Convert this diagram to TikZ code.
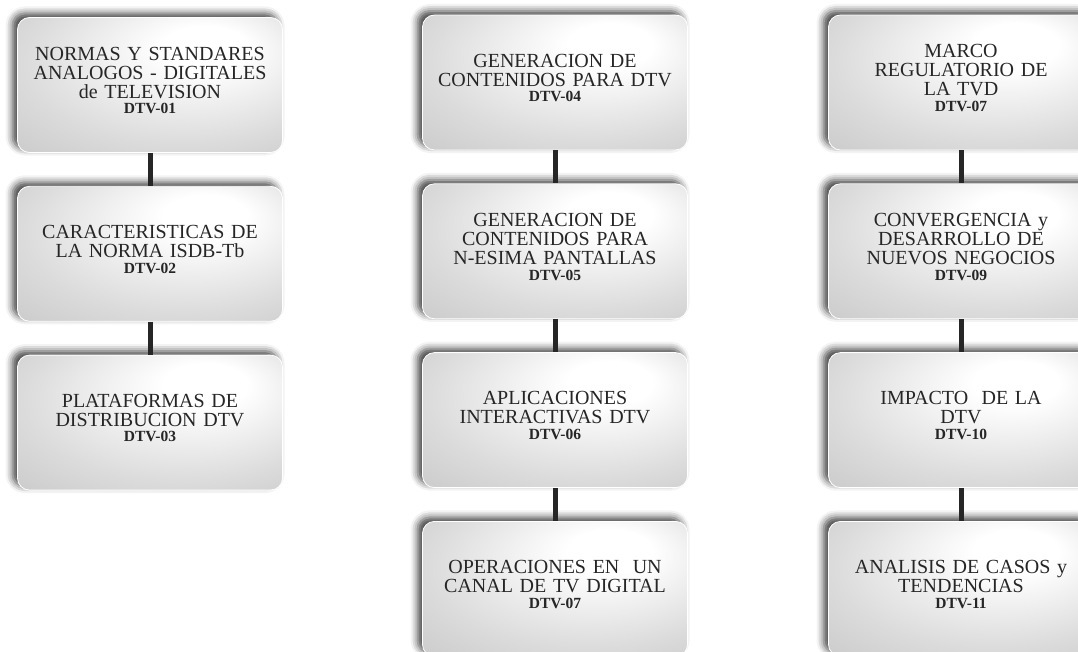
\documentclass[tikz,border=0pt]{standalone}
\usepackage{fontspec}
\setmainfont{Liberation Serif}
\usetikzlibrary{positioning,shadows.blur}

\pgfdeclareradialshading{boxglow}{\pgfpoint{12bp}{16bp}}{color(0bp)=(white); color(8bp)=(white); color(30bp)=(black!14); color(45bp)=(black!22); color(60bp)=(black!27)}
\newcommand{\dtv}[1]{\\[-3.5pt]{\fontsize{15.5}{15.5}\selectfont\bfseries #1}\par\vspace{9pt}}

\begin{document}
\begin{tikzpicture}[x=1pt,y=-1pt,
		node distance=33pt,
		box/.style={rectangle,rounded corners=12pt,minimum width=265pt,minimum height=135pt,
			text width=258pt,align=center,shading=boxglow,draw=white,line width=0.8pt,
			text=black!85,font=\fontsize{20}{19}\selectfont,
			blur shadow={shadow xshift=-5pt,shadow yshift=4pt,shadow blur radius=7pt,shadow opacity=75}},
		link/.style={line width=5pt,black!85}]
	\useasboundingbox (0,0) rectangle (1078,652);

	\node[box] (n01) at (150,85) {NORMAS Y STANDARES\\ANALOGOS - DIGITALES\\de TELEVISION\dtv{DTV-01}};
	\node[box,below=of n01] (n02) {CARACTERISTICAS DE\\LA NORMA ISDB-Tb\dtv{DTV-02}};
	\node[box,below=of n02] (n03) {PLATAFORMAS DE\\DISTRIBUCION DTV\dtv{DTV-03}};

	\node[box] (n04) at (555,82.5) {GENERACION DE\\CONTENIDOS PARA DTV\dtv{DTV-04}};
	\node[box,below=of n04] (n05) {GENERACION DE\\CONTENIDOS PARA\\N-ESIMA PANTALLAS\dtv{DTV-05}};
	\node[box,below=of n05] (n06) {APLICACIONES\\INTERACTIVAS DTV\dtv{DTV-06}};
	\node[box,below=of n06] (n07) {OPERACIONES EN\ \ UN\\CANAL DE TV DIGITAL\dtv{DTV-07}};

	\node[box] (n08) at (961,82.5) {MARCO\\REGULATORIO DE\\LA TVD\dtv{DTV-07}};
	\node[box,below=of n08] (n09) {CONVERGENCIA y\\DESARROLLO DE\\NUEVOS NEGOCIOS\dtv{DTV-09}};
	\node[box,below=of n09] (n10) {IMPACTO\ \ DE LA\\DTV\dtv{DTV-10}};
	\node[box,below=of n10] (n11) {ANALISIS DE CASOS y\\TENDENCIAS\dtv{DTV-11}};

	\draw[link] (n01) -- (n02);
	\draw[link] (n02) -- (n03);
	\draw[link] (n04) -- (n05);
	\draw[link] (n05) -- (n06);
	\draw[link] (n06) -- (n07);
	\draw[link] (n08) -- (n09);
	\draw[link] (n09) -- (n10);
	\draw[link] (n10) -- (n11);
\end{tikzpicture}
\end{document}
